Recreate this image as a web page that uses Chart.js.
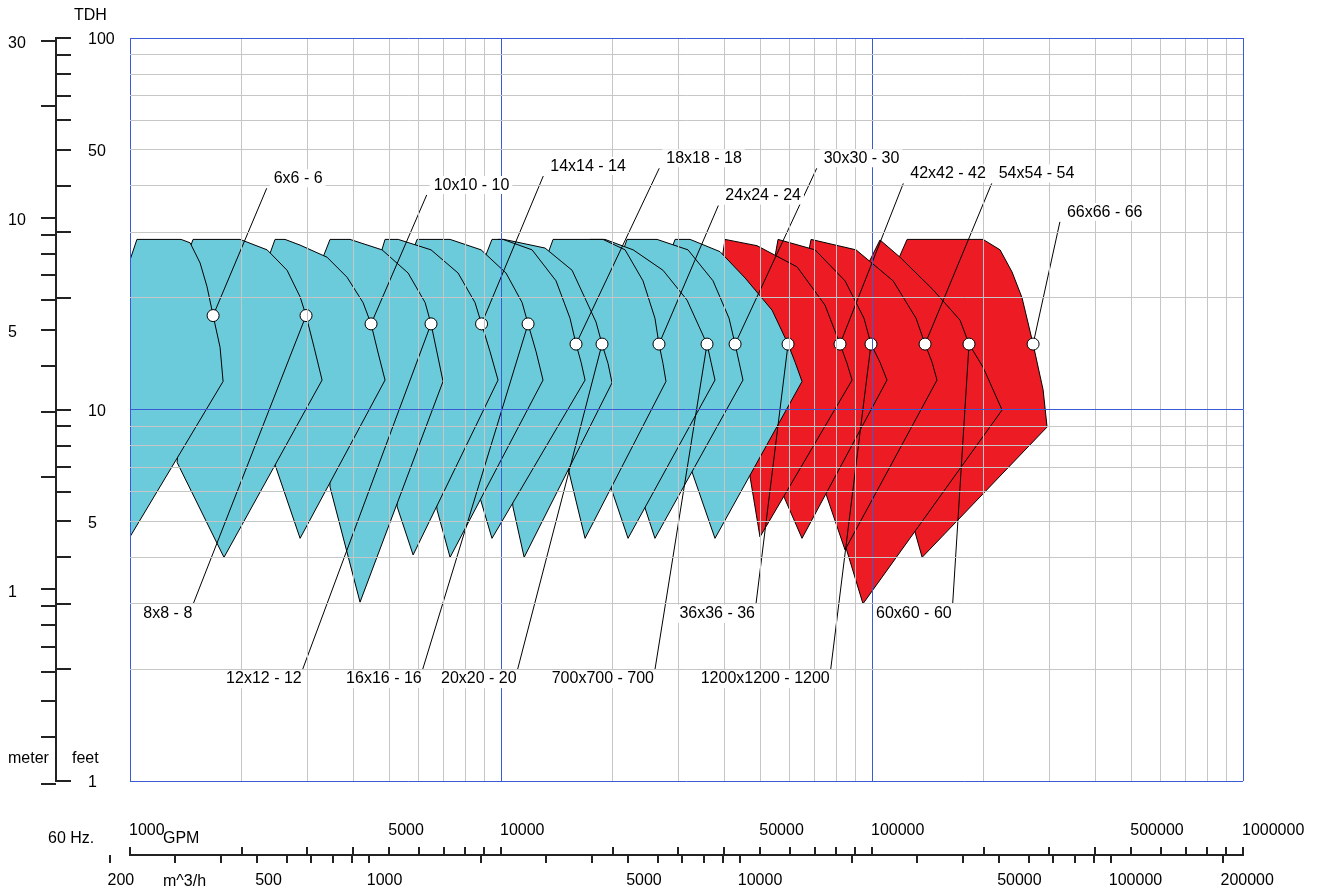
<!DOCTYPE html>
<html>
<head>
<meta charset="utf-8">
<script src="https://cdn.jsdelivr.net/npm/chart.js@4.4.0/dist/chart.umd.min.js"></script>
<style>
  html, body { margin: 0; padding: 0; background: #fff; }
</style>
</head>
<body>
<canvas id="chart" width="1317" height="895"></canvas>
<script>
'use strict';

// pump coverage envelopes, [flow GPM, head ft]
const env6x6 = [[940, 21.0], [1044, 28.7], [1373, 28.7], [1452, 28.1], [1545, 24.8], [1613, 21.4], [1675, 17.9], [1749, 14.7], [1782, 11.9], [830, 3.33], [647, 5.71]];
const env8x8 = [[1425, 25.9], [1479, 28.7], [1980, 28.7], [2342, 26.9], [2651, 23.7], [2874, 20.1], [2982, 17.9], [3135, 14.7], [3294, 12.0], [1792, 4.0], [1340, 7.2]];
const env10x10 = [[2371, 25.9], [2460, 28.7], [2617, 28.7], [2874, 27.7], [3397, 25.7], [3846, 22.7], [4248, 19.4], [4464, 17.0], [4664, 14.2], [4869, 12.0], [2874, 4.5], [2460, 7.1]];
const env12x12 = [[3294, 25.3], [3461, 28.7], [3918, 28.7], [4779, 26.9], [5618, 23.3], [6244, 19.4], [6477, 17.0], [6727, 14.2], [6978, 11.9], [4169, 3.03], [3461, 6.18]];
const env14x14 = [[4722, 25.9], [4869, 28.7], [5283, 28.7], [6477, 26.9], [7661, 23.3], [8510, 19.4], [8863, 17.0], [9345, 14.3], [9818, 12.0], [5796, 4.06], [5250, 5.47]];
const env16x16 = [[5725, 25.9], [5939, 28.7], [7290, 28.7], [8837, 26.9], [10316, 23.3], [11400, 19.4], [11830, 17.0], [12435, 14.3], [12980, 12.0], [7290, 4.0], [6727, 5.36]];
const env18x18 = [[9000, 25.3], [9456, 28.7], [10125, 28.7], [12127, 26.9], [14070, 22.2], [15350, 17.6], [15930, 15.0], [16440, 13.4], [16850, 12.0], [9456, 4.5], [8782, 5.78]];
const env20x20 = [[9575, 25.9], [9818, 28.7], [10188, 28.7], [13146, 27.2], [15546, 23.7], [18034, 17.2], [18720, 15.0], [19430, 13.3], [19920, 11.8], [11545, 4.0], [10770, 5.47]];
const env24x24 = [[13314, 25.9], [13817, 28.7], [18834, 28.7], [21600, 26.9], [24140, 22.2], [26000, 17.6], [26660, 15.0], [27330, 13.3], [27840, 11.9], [16850, 4.5], [15160, 6.96]];
const env700x700 = [[16745, 25.9], [17380, 28.7], [19070, 28.7], [22710, 26.9], [27330, 23.7], [31730, 19.7], [35920, 15.0], [36830, 13.4], [37740, 12.0], [22000, 4.5], [19800, 6.15]];
const env30x30 = [[21090, 25.9], [21860, 28.7], [26330, 28.7], [31920, 26.9], [37285, 22.2], [41180, 17.6], [42750, 15.0], [43830, 13.4], [44900, 12.0], [26000, 4.5], [24450, 5.43]];
const env36x36 = [[28370, 25.9], [29460, 28.7], [32330, 28.7], [38940, 26.6], [45480, 22.6], [53800, 18.5], [59390, 15.0], [62060, 13.4], [64770, 11.9], [37740, 4.5], [32730, 6.79]];
const env42x42 = [[39180, 24.3], [40160, 28.7], [48990, 27.6], [62820, 24.2], [74690, 19.1], [82000, 15.0], [85650, 13.3], [88370, 12.0], [49900, 4.54], [46930, 6.58]];
const env1200x1200 = [[54440, 24.95], [55820, 28.7], [70220, 26.9], [84580, 22.2], [95150, 17.6], [99380, 15.0], [105100, 13.4], [109750, 12.0], [64770, 4.5], [57960, 5.81]];
const env54x54 = [[66430, 24.6], [68520, 28.7], [90570, 26.9], [114000, 22.2], [131460, 17.6], [139000, 15.0], [145200, 13.4], [149700, 12.0], [84580, 4.19], [75160, 5.92]];
const env60x60 = [[96340, 24.0], [105100, 28.6], [119000, 25.7], [146100, 21.0], [172700, 17.4], [182600, 15.0], [199200, 13.0], [224200, 9.97], [94560, 3.0], [85100, 4.24]];
const env66x66 = [[116900, 24.95], [124350, 28.7], [199200, 28.7], [221400, 26.9], [238500, 23.45], [253700, 20.0], [271800, 15.0], [289200, 11.3], [296400, 8.97], [136500, 4.0], [130600, 4.68]];

const pumpNames = ['6x6 - 6', '8x8 - 8', '10x10 - 10', '12x12 - 12', '14x14 - 14', '16x16 - 16', '18x18 - 18', '20x20 - 20', '24x24 - 24',
  '700x700 - 700', '30x30 - 30', '36x36 - 36', '42x42 - 42', '1200x1200 - 1200', '54x54 - 54', '60x60 - 60', '66x66 - 66'];
const bepFlow = [1675, 2982, 4464, 6477, 8863, 11830, 15930, 18720, 26660, 35920, 42750, 59390, 82000, 99380, 139000, 182600, 271800];
const bepHead = [17.9, 17.9, 17.0, 17.0, 17.0, 17.0, 15.0, 15.0, 15.0, 15.0, 15.0, 15.0, 15.0, 15.0, 15.0, 15.0, 15.0];
const labelFlow = [2336, 1481, 6306, 2921, 13000, 6152, 26700, 11090, 38530, 26010, 70960, 48680, 121450, 77400, 210200, 165000, 321000];
const labelHead = [39.4, 3.0, 37.8, 2.0, 42.5, 2.0, 44.6, 2.0, 35.4, 2.0, 44.6, 3.0, 40.6, 2.0, 40.6, 3.0, 32.0];
const labelAbove = [true, false, true, false, true, false, true, false, true, false, true, false, true, false, true, false, true];

const CYAN = '#6bcbdb';
const RED = '#ed1c24';
const envelopeColors = [CYAN, CYAN, CYAN, CYAN, CYAN, CYAN, CYAN, CYAN, CYAN, CYAN, CYAN, CYAN, RED, RED, RED, RED, RED];

// axes
const feetTicks = [1, 2, 3, 4, 5, 6, 7, 8, 9, 10, 20, 30, 40, 50, 60, 70, 80, 90, 100];
const feetLabels = [1, 5, 10, 50, 100];
const meterTicks = [0.3, 0.4, 0.5, 0.6, 0.7, 0.8, 0.9, 1, 2, 3, 4, 5, 6, 7, 8, 9, 10, 20, 30];
const meterLabels = [1, 5, 10, 30];
const gpmTicks = [1000, 2000, 3000, 4000, 5000, 6000, 7000, 8000, 9000,
  10000, 20000, 30000, 40000, 50000, 60000, 70000, 80000, 90000,
  100000, 200000, 300000, 400000, 500000, 600000, 700000, 800000, 900000, 1000000];
const gpmLabels = [1000, 5000, 10000, 50000, 100000, 500000, 1000000];
const m3hTicks = [200, 300, 400, 500, 600, 700, 800, 900,
  1000, 2000, 3000, 4000, 5000, 6000, 7000, 8000, 9000,
  10000, 20000, 30000, 40000, 50000, 60000, 70000, 80000, 90000, 100000, 200000];
const m3hLabels = [200, 500, 1000, 5000, 10000, 50000, 100000, 200000];
const majorFlow = [1000, 10000, 100000, 1000000];
const majorHead = [1, 10, 100];

const FT_PER_M = 3.28084;
const GPM_PER_M3H = 4.402868;
const FONT = '16px "Liberation Sans", Arial, sans-serif';
const GRID_GRAY = '#c6c6c6';
const GRID_BLUE = '#3a5ad6';

function envelopeList() {
  return [env6x6, env8x8, env10x10, env12x12, env14x14, env16x16, env18x18, env20x20, env24x24,
    env700x700, env30x30, env36x36, env42x42, env1200x1200, env54x54, env60x60, env66x66];
}

const datasets = [];
envelopeList().forEach((pts, i) => {
  datasets.push({
    label: pumpNames[i],
    data: pts.concat([pts[0]]).map(([x, y]) => ({ x, y })),
    showLine: true,
    fill: 'shape',
    backgroundColor: envelopeColors[i],
    borderColor: '#000',
    borderWidth: 1,
    pointRadius: 0,
    tension: 0,
    order: 0,
  });
});
pumpNames.forEach((name, i) => {
  datasets.push({
    label: name + ' leader',
    data: [{ x: bepFlow[i], y: bepHead[i] }, { x: labelFlow[i], y: labelHead[i] }],
    showLine: true,
    fill: false,
    borderColor: '#000',
    borderWidth: 1,
    pointRadius: 0,
    order: -1,
  });
});
datasets.push({
  label: 'BEP',
  data: bepFlow.map((x, i) => ({ x, y: bepHead[i] })),
  showLine: false,
  pointRadius: 6,
  pointBackgroundColor: '#fff',
  pointBorderColor: '#000',
  pointBorderWidth: 1,
  order: -2,
});

const pumpLabels = {
  id: 'pumpLabels',
  afterDraw(chart) {
    const { ctx, scales: { x, y } } = chart;
    ctx.save();
    ctx.font = FONT;
    ctx.textBaseline = 'middle';
    pumpNames.forEach((name, i) => {
      const ax = x.getPixelForValue(labelFlow[i]);
      const ay = y.getPixelForValue(labelHead[i]);
      const w = ctx.measureText(name).width;
      ctx.fillStyle = '#fff';
      if (labelAbove[i]) {
        ctx.fillRect(ax + 3, ay - 19, w + 7, 18);
        ctx.fillStyle = '#000';
        ctx.textAlign = 'left';
        ctx.fillText(name, ax + 7, ay - 9.5);
      } else {
        ctx.fillRect(ax - w - 4, ay + 1, w + 4, 18);
        ctx.fillStyle = '#000';
        ctx.textAlign = 'right';
        ctx.fillText(name, ax - 1, ay + 9.5);
      }
    });
    ctx.restore();
  },
};

const sideAxes = {
  id: 'sideAxes',
  afterDraw(chart) {
    const { ctx, scales: { x, y } } = chart;
    ctx.save();
    ctx.strokeStyle = '#222';
    ctx.lineWidth = 2;
    ctx.beginPath();
    // head axis: feet ticks to the right, meter ticks to the left
    const axisX = 56;
    ctx.moveTo(axisX, y.getPixelForValue(100) - 1);
    ctx.lineTo(axisX, y.getPixelForValue(1) + 1);
    feetTicks.forEach((v) => {
      const py = Math.round(y.getPixelForValue(v));
      ctx.moveTo(axisX, py);
      ctx.lineTo(axisX + 15, py);
    });
    meterTicks.forEach((v) => {
      const py = Math.round(y.getPixelForValue(v * FT_PER_M));
      ctx.moveTo(axisX - 15, py);
      ctx.lineTo(axisX, py);
    });
    // flow axis: GPM ticks up, m^3/h ticks down
    const axisY = 855;
    ctx.moveTo(x.getPixelForValue(1000) - 1, axisY);
    ctx.lineTo(x.getPixelForValue(1000000) + 1, axisY);
    gpmTicks.forEach((v) => {
      const px = Math.round(x.getPixelForValue(v));
      ctx.moveTo(px, axisY);
      ctx.lineTo(px, axisY - 8);
    });
    m3hTicks.forEach((v) => {
      const px = Math.round(x.getPixelForValue(v * GPM_PER_M3H));
      ctx.moveTo(px, axisY);
      ctx.lineTo(px, axisY + 8);
    });
    ctx.stroke();

    ctx.fillStyle = '#000';
    ctx.font = FONT;
    ctx.textBaseline = 'middle';
    ctx.textAlign = 'left';
    feetLabels.forEach((v) => ctx.fillText(String(v), 88, y.getPixelForValue(v) + 2));
    meterLabels.forEach((v) => ctx.fillText(String(v), 8, y.getPixelForValue(v * FT_PER_M) + 3));
    gpmLabels.forEach((v) => ctx.fillText(String(v), x.getPixelForValue(v) - 1, 831));
    m3hLabels.forEach((v) => ctx.fillText(String(v), x.getPixelForValue(v * GPM_PER_M3H) - 2, 881));
    ctx.fillText('TDH', 74, 16);
    ctx.fillText('meter', 8, 759);
    ctx.fillText('feet', 72, 759);
    ctx.fillText('GPM', 163, 839);
    ctx.fillText('m^3/h', 163, 882);
    ctx.fillText('60 Hz.', 48, 839);
    ctx.restore();
  },
};

const gridColor = (major) => (c) => (c.tick && major.includes(c.tick.value) ? GRID_BLUE : GRID_GRAY);

new Chart(document.querySelector('#chart'), {
  type: 'scatter',
  data: { datasets },
  options: {
    responsive: false,
    animation: false,
    events: [],
    layout: { padding: { left: 130, top: 38, right: 74, bottom: 114 } },
    scales: {
      x: {
        type: 'logarithmic',
        min: 1000,
        max: 1000000,
        afterBuildTicks: (scale) => { scale.ticks = gpmTicks.map((v) => ({ value: v })); },
        ticks: { display: false },
        border: { display: false },
        grid: { color: gridColor(majorFlow), lineWidth: 1, drawTicks: false, z: 1 },
      },
      y: {
        type: 'logarithmic',
        min: 1,
        max: 100,
        afterBuildTicks: (scale) => { scale.ticks = feetTicks.map((v) => ({ value: v })); },
        ticks: { display: false },
        border: { display: false },
        grid: { color: gridColor(majorHead), lineWidth: 1, drawTicks: false, z: 1 },
      },
    },
    plugins: {
      legend: { display: false },
      tooltip: { enabled: false },
    },
  },
  plugins: [sideAxes, pumpLabels],
});
</script>
</body>
</html>
